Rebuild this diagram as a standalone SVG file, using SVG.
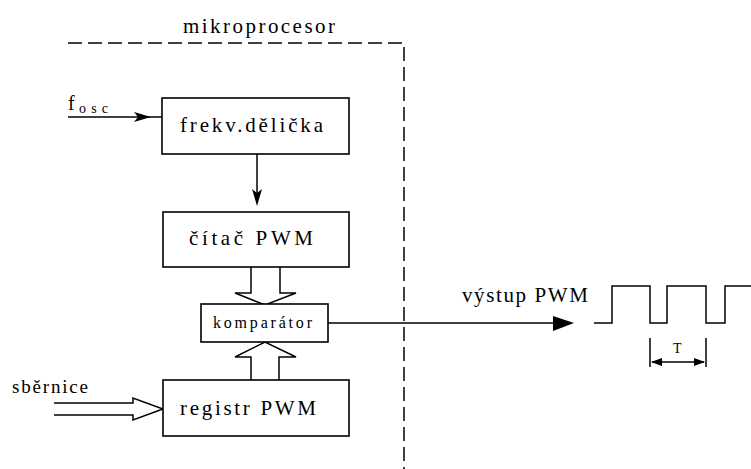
<svg xmlns="http://www.w3.org/2000/svg" width="751" height="469" viewBox="0 0 751 469">
<style>
  .box { fill: #fff; stroke: #000; stroke-width: 1.6; }
  .ln { fill: none; stroke: #000; stroke-width: 1.5; }
  .dash { fill: none; stroke: #000; stroke-width: 1.5; stroke-dasharray: 14 6; }
  .hd { fill: #000; stroke: none; }
</style>
<rect width="751" height="469" fill="#fff"/>
<g font-family="Liberation Serif, Times New Roman, serif" fill="#000">
<g id="mikroprocesor">
  <path class="dash" d="M68,43 H404 V469"/>
  <text x="183" y="33" font-size="21" textLength="152" lengthAdjust="spacing">mikroprocesor</text>
</g>
<g id="connectors">
  <line class="ln" x1="68" y1="117" x2="162" y2="117"/>
  <polygon class="hd" points="134,112 151,117 134,122 138,117"/>
  <line class="ln" x1="257" y1="154" x2="257" y2="200"/>
  <polygon class="hd" points="252,189 257,206 262,189 257,193"/>
  <path class="ln" d="M251,267 V293 H235 L265,305 L296,293 H280 V267"/>
  <path class="ln" d="M251,380 V357 H235 L265,342 L296,357 H279 V380"/>
  <path class="ln" d="M54,403 H133 V398 L163,409 L133,420 V415 H54"/>
  <line class="ln" x1="328" y1="323" x2="556" y2="323"/>
  <polygon class="hd" points="553,316 574,323 553,331"/>
</g>
<g id="fosc">
  <text x="68" y="110" font-size="20">f</text>
  <text x="79" y="113" font-size="14" textLength="29" lengthAdjust="spacing">osc</text>
</g>
<g id="frekv-delicka">
  <rect class="box" x="162" y="98" width="187" height="56"/>
  <text x="180" y="132" font-size="21" textLength="143" lengthAdjust="spacing">frekv.dělička</text>
</g>
<g id="citac-pwm">
  <rect class="box" x="163" y="212" width="186" height="55"/>
  <text x="189" y="245" font-size="21" textLength="124" lengthAdjust="spacing">čítač PWM</text>
</g>
<g id="komparator">
  <rect class="box" x="201" y="304" width="127" height="38"/>
  <text x="213" y="328" font-size="16" textLength="99" lengthAdjust="spacing">komparátor</text>
</g>
<g id="registr-pwm">
  <rect class="box" x="163" y="380" width="186" height="56"/>
  <text x="180" y="415" font-size="21" textLength="136" lengthAdjust="spacing">registr PWM</text>
</g>
<g id="sbernice">
  <text x="12" y="393" font-size="19" textLength="76" lengthAdjust="spacing">sběrnice</text>
</g>
<g id="vystup-pwm">
  <text x="462" y="302" font-size="21" textLength="126" lengthAdjust="spacing">výstup PWM</text>
  <path class="ln" d="M594,323 H612 V286 H650 V323 H667 V286 H706 V323 H725 V286 H751"/>
  <line class="ln" x1="650" y1="338" x2="650" y2="367"/>
  <line class="ln" x1="706" y1="338" x2="706" y2="367"/>
  <line class="ln" x1="652" y1="362" x2="704" y2="362"/>
  <polygon class="hd" points="651,362 662,358 662,366"/>
  <polygon class="hd" points="705,362 694,358 694,366"/>
  <text x="673" y="353" font-size="14" textLength="10" lengthAdjust="spacing">T</text>
</g>
</g>
</svg>
